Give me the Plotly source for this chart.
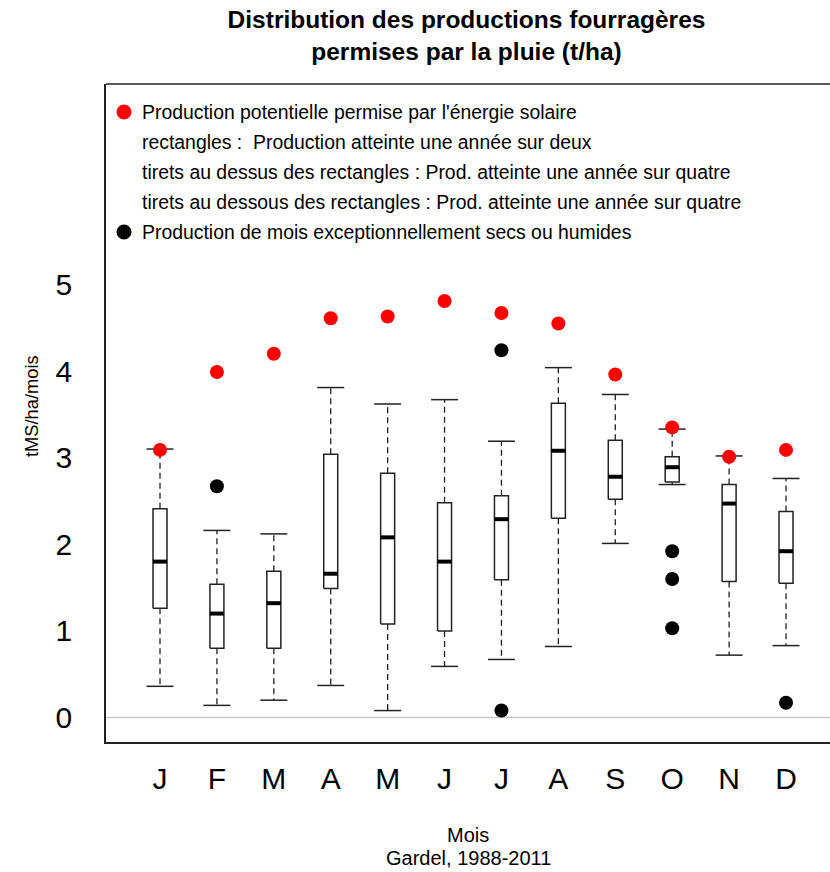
import plotly.graph_objects as go

# ---------------- data ----------------
month_labels = ["J", "F", "M", "A", "M", "J", "J", "A", "S", "O", "N", "D"]
month_pos = list(range(1, 13))

solar = [3.09, 3.99, 4.20, 4.61, 4.63, 4.81, 4.67, 4.55, 3.96, 3.35, 3.01, 3.09]
whisk_hi = [3.10, 2.16, 2.12, 3.81, 3.62, 3.67, 3.19, 4.04, 3.73, 3.33, 3.02, 2.76]
q3 = [2.41, 1.54, 1.69, 3.04, 2.82, 2.48, 2.56, 3.63, 3.20, 3.01, 2.69, 2.38]
median = [1.80, 1.20, 1.32, 1.66, 2.08, 1.80, 2.29, 3.08, 2.78, 2.89, 2.47, 1.92]
q1 = [1.26, 0.80, 0.80, 1.49, 1.08, 1.00, 1.59, 2.30, 2.52, 2.72, 1.57, 1.55]
whisk_lo = [0.36, 0.14, 0.20, 0.37, 0.08, 0.59, 0.67, 0.82, 2.01, 2.69, 0.72, 0.83]

outlier_month = [2, 7, 7, 10, 10, 10, 12]
outlier_value = [2.67, 4.24, 0.08, 1.92, 1.60, 1.03, 0.17]

y_ticks = [0, 1, 2, 3, 4, 5]

legend_lines = [
    "Production potentielle permise par l'énergie solaire",
    "rectangles :  Production atteinte une année sur deux",
    "tirets au dessus des rectangles : Prod. atteinte une année sur quatre",
    "tirets au dessous des rectangles : Prod. atteinte une année sur quatre",
    "Production de mois exceptionnellement secs ou humides",
]
legend_dot_colors = ["#FF0000", None, None, None, "#000000"]

# ---------------- geometry ----------------
W, H = 830, 872
L, T, B, R = 106, 84, 130, 0
plot_w = W - L - R
plot_h = H - T - B
box_half = 0.123
cap_half = 0.237
FONT = "Liberation Sans, Arial, Helvetica, sans-serif"


def segs(xs0, xs1, ys0, ys1):
    X, Y = [], []
    for a, b, c, d in zip(xs0, xs1, ys0, ys1):
        X += [a, b, None]
        Y += [c, d, None]
    return X, Y


fig = go.Figure()

# dashed whiskers
wx, wy = segs(month_pos, month_pos, q3, whisk_hi)
wx2, wy2 = segs(month_pos, month_pos, q1, whisk_lo)
fig.add_trace(go.Scatter(x=wx + wx2, y=wy + wy2, mode="lines",
                         line=dict(color="#222222", width=1.3, dash="6px,4px"),
                         hoverinfo="skip", showlegend=False))

# caps
cx, cy = segs([m - cap_half for m in month_pos], [m + cap_half for m in month_pos], whisk_hi, whisk_hi)
cx2, cy2 = segs([m - cap_half for m in month_pos], [m + cap_half for m in month_pos], whisk_lo, whisk_lo)
fig.add_trace(go.Scatter(x=cx + cx2, y=cy + cy2, mode="lines",
                         line=dict(color="#222222", width=1.5),
                         hoverinfo="skip", showlegend=False))

# boxes
bx, by = [], []
for m, a, b in zip(month_pos, q1, q3):
    bx += [m - box_half, m + box_half, m + box_half, m - box_half, m - box_half, None]
    by += [a, a, b, b, a, None]
fig.add_trace(go.Scatter(x=bx, y=by, mode="lines", fill="toself", fillcolor="white",
                         line=dict(color="#222222", width=1.5),
                         hoverinfo="skip", showlegend=False))

# medians
mx, my = segs([m - box_half for m in month_pos], [m + box_half for m in month_pos], median, median)
fig.add_trace(go.Scatter(x=mx, y=my, mode="lines",
                         line=dict(color="#000000", width=4),
                         hoverinfo="skip", showlegend=False))

# outliers
fig.add_trace(go.Scatter(x=outlier_month, y=outlier_value, mode="markers",
                         marker=dict(color="#000000", size=14),
                         showlegend=False))

# solar potential
fig.add_trace(go.Scatter(x=month_pos, y=solar, mode="markers",
                         marker=dict(color="#FF0000", size=14),
                         showlegend=False))

# zero reference line
fig.add_shape(type="line", xref="paper", x0=0, x1=1, yref="y", y0=0, y1=0,
              line=dict(color="#C8C8C8", width=1.5), layer="below")
# top border
fig.add_shape(type="line", xref="paper", x0=0, x1=1, yref="paper", y0=1, y1=1,
              line=dict(color="#222222", width=1.5))

# legend (text + dots)
first_y = 112
spacing = 30
for i, (txt, col) in enumerate(zip(legend_lines, legend_dot_colors)):
    py = first_y + i * spacing
    yp = (H - B - py) / plot_h
    fig.add_annotation(x=(140 - L) / plot_w, y=yp, xref="paper", yref="paper",
                       text=txt, showarrow=False, xanchor="left", yanchor="middle",
                       font=dict(family=FONT, size=19.4, color="#000000"))
    if col:
        fig.add_shape(type="circle", xref="paper", yref="paper",
                      xsizemode="pixel", ysizemode="pixel",
                      xanchor=(124 - L) / plot_w, yanchor=yp,
                      x0=-7.5, x1=7.5, y0=-7.5, y1=7.5,
                      fillcolor=col, line=dict(width=0))

# axis titles / captions
fig.add_annotation(x=-(L - 31) / plot_w, y=(H - B - 406) / plot_h, xref="paper", yref="paper",
                   text="tMS/ha/mois", textangle=-90, showarrow=False,
                   xanchor="center", yanchor="middle",
                   font=dict(family=FONT, size=18.3, color="#000000"))
fig.add_annotation(x=0.5, y=-(835 - (H - B)) / plot_h, xref="paper", yref="paper",
                   text="Mois", showarrow=False, xanchor="center", yanchor="middle",
                   font=dict(family=FONT, size=20, color="#000000"))
fig.add_annotation(x=0.5, y=-(858 - (H - B)) / plot_h, xref="paper", yref="paper",
                   text="Gardel, 1988-2011", showarrow=False, xanchor="center", yanchor="middle",
                   font=dict(family=FONT, size=20, color="#000000"))

fig.update_layout(
    width=W, height=H,
    margin=dict(l=L, r=R, t=T, b=B, pad=0),
    paper_bgcolor="white", plot_bgcolor="white",
    title=dict(text="<b>Distribution des productions fourragères<br>permises par la pluie (t/ha)</b>",
               x=466.5 / W, xanchor="center", y=1 - 28 / H, yanchor="middle",
               font=dict(family=FONT, size=24.5, color="#000000")),
    xaxis=dict(range=[0.051, 12.773], tickvals=month_pos, ticktext=month_labels,
               showgrid=False, zeroline=False, showline=True, linecolor="#222222", linewidth=1.5,
               ticks="outside", ticklen=9, tickcolor="rgba(0,0,0,0)",
               tickfont=dict(family=FONT, size=30, color="#000000")),
    yaxis=dict(range=[-0.283, 7.315], tickvals=y_ticks, ticktext=[str(v) for v in y_ticks],
               showgrid=False, zeroline=False, showline=True, linecolor="#222222", linewidth=1.5,
               ticks="outside", ticklen=26, tickcolor="rgba(0,0,0,0)",
               tickfont=dict(family=FONT, size=30, color="#000000")),
)

fig.write_html("out.html", config={"displayModeBar": False},
               post_script="document.body.style.margin='0';document.body.style.overflow='hidden';")
